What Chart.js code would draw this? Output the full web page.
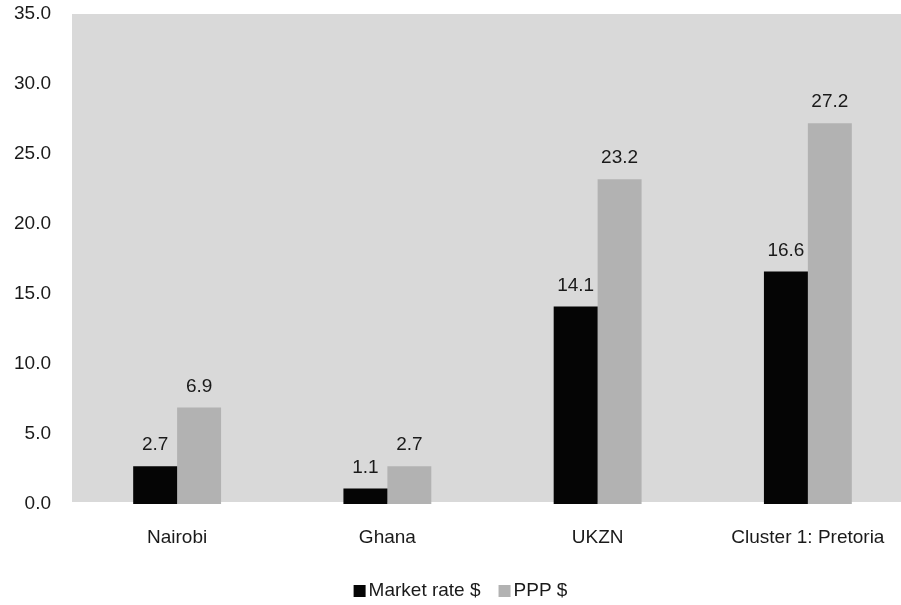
<!DOCTYPE html>
<html>
<head>
<meta charset="utf-8">
<script src="https://cdn.jsdelivr.net/npm/chart.js@4/dist/chart.umd.min.js"></script>
<style>
  html, body { margin: 0; padding: 0; background: #fff; overflow: hidden; }
  #wrap { position: relative; width: 913px; height: 605px; }
</style>
</head>
<body>
<div id="wrap"><canvas id="c"></canvas></div>
<script>
const categories = ['Nairobi', 'Ghana', 'UKZN', 'Cluster 1: Pretoria'];
const marketRate = [2.7, 1.1, 14.1, 16.6];
const ppp = [6.9, 2.7, 23.2, 27.2];
const seriesNames = ['Market rate $', 'PPP $'];
const yTicks = [0, 5, 10, 15, 20, 25, 30, 35];

const FONT = "'Liberation Sans', Arial, sans-serif";
const TEXT = '#1a1a1a';

// Grey plot background behind the bars
const plotBackground = {
  id: 'plotBackground',
  beforeDatasetsDraw(chart) {
    const { ctx, chartArea: a } = chart;
    ctx.save();
    ctx.fillStyle = '#d9d9d9';
    ctx.fillRect(a.left, a.top, a.right - a.left, a.bottom - a.top - 2);
    ctx.restore();
  }
};

// Value labels above each bar
const valueLabels = {
  id: 'valueLabels',
  afterDatasetsDraw(chart) {
    const { ctx } = chart;
    ctx.save();
    ctx.font = '19px ' + FONT;
    ctx.fillStyle = TEXT;
    ctx.textAlign = 'center';
    ctx.textBaseline = 'middle';
    chart.data.datasets.forEach((ds, i) => {
      chart.getDatasetMeta(i).data.forEach((bar, j) => {
        ctx.fillText(ds.data[j].toFixed(1), bar.x, bar.y - 21);
      });
    });
    ctx.restore();
  }
};

// Compact legend below the axis: small square, tight gap, then the series name
const compactLegend = {
  id: 'compactLegend',
  afterDraw(chart) {
    const { ctx } = chart;
    const box = 12, gap = 3, itemGap = 18, y = 591;
    ctx.save();
    ctx.font = '19px ' + FONT;
    ctx.textBaseline = 'middle';
    ctx.textAlign = 'left';
    const items = chart.data.datasets.map(ds => ({
      text: ds.label, color: ds.backgroundColor, w: ctx.measureText(ds.label).width
    }));
    const total = items.reduce((s, it) => s + box + gap + it.w, 0) + itemGap * (items.length - 1);
    let x = chart.width / 2 + 4 - total / 2;
    items.forEach(it => {
      ctx.fillStyle = it.color;
      ctx.fillRect(x, y - box / 2, box, box);
      x += box + gap;
      ctx.fillStyle = TEXT;
      ctx.fillText(it.text, x, y);
      x += it.w + itemGap;
    });
    ctx.restore();
  }
};

new Chart(document.getElementById('c'), {
  type: 'bar',
  data: {
    labels: categories,
    datasets: [
      { label: seriesNames[0], data: marketRate, backgroundColor: '#050505', borderWidth: 0 },
      { label: seriesNames[1], data: ppp, backgroundColor: '#b2b2b2', borderWidth: 0 }
    ]
  },
  options: {
    responsive: true,
    maintainAspectRatio: false,
    animation: false,
    devicePixelRatio: 1,
    layout: { padding: { top: 14, left: 0, right: 0, bottom: 40 } },
    datasets: { bar: { barPercentage: 1, categoryPercentage: 0.418 } },
    plugins: {
      tooltip: { enabled: false },
      legend: { display: false }
    },
    scales: {
      x: {
        grid: { display: false, drawTicks: false },
        border: { display: false },
        ticks: { font: { family: FONT, size: 19 }, color: TEXT, padding: 22 },
        afterFit(s) { s.height = 61; }
      },
      y: {
        min: 0,
        max: 35,
        afterBuildTicks(s) { s.ticks = yTicks.map(v => ({ value: v })); },
        grid: { display: false, drawTicks: true, tickLength: 21 },
        border: { display: false },
        ticks: {
          font: { family: FONT, size: 19 },
          color: TEXT,
          padding: 0,
          callback: v => Number(v).toFixed(1)
        },
        afterFit(s) { s.width = 72; }
      }
    }
  },
  plugins: [plotBackground, valueLabels, compactLegend]
});
</script>
</body>
</html>
